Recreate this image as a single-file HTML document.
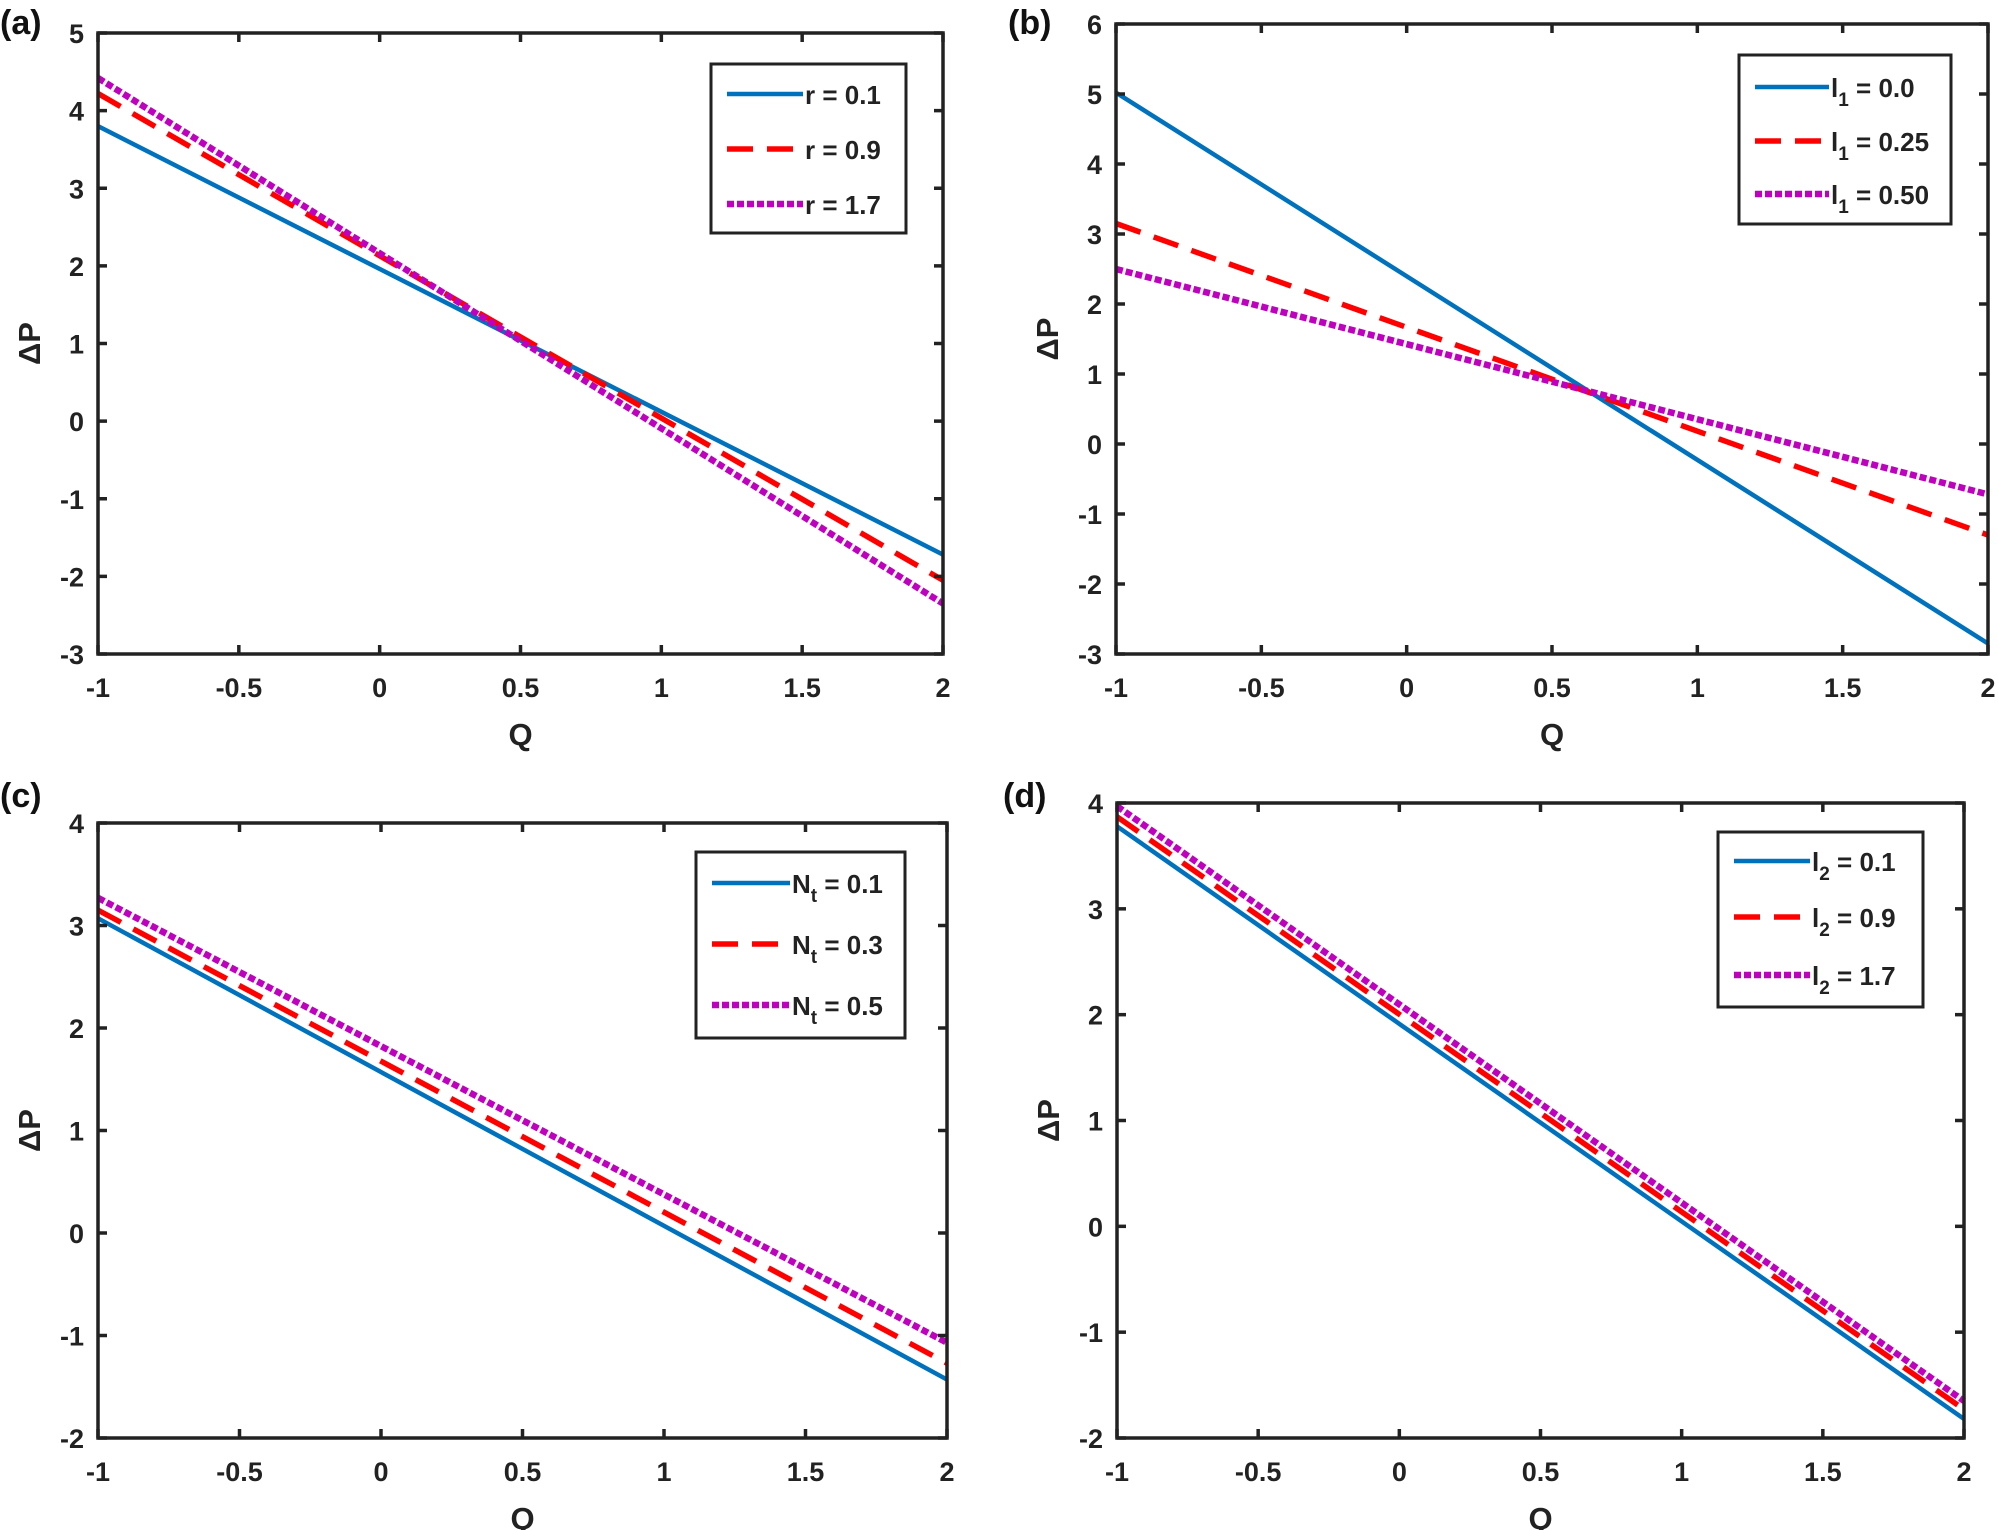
<!DOCTYPE html>
<html><head><meta charset="utf-8">
<style>
body{margin:0;background:#fff;}
svg{display:block;font-family:"Liberation Sans",Arial,sans-serif;font-weight:bold;}
</style></head>
<body>
<svg id="fig" width="1998" height="1530" viewBox="0 0 1998 1530" xmlns="http://www.w3.org/2000/svg"></svg>
<script>
// Shared x data
const qValues = [-1, 2];
const xTicks = [-1, -0.5, 0, 0.5, 1, 1.5, 2];
const xTickLabels = ["-1","-0.5","0","0.5","1","1.5","2"];
// Panel (a)
const aLabels = ["r = 0.1","r = 0.9","r = 1.7"];
const aBlue = [3.8, -1.72];
const aRed = [4.22, -2.05];
const aMag = [4.42, -2.35];
const aYTicks = [-3,-2,-1,0,1,2,3,4,5];
// Panel (b)
const bLabels = [["l","1"," = 0.0"],["l","1"," = 0.25"],["l","1"," = 0.50"]];
const bBlue = [5.02, -2.85];
const bRed = [3.15, -1.3];
const bMag = [2.5, -0.72];
const bYTicks = [-3,-2,-1,0,1,2,3,4,5,6];
// Panel (c)
const cLabels = [["N","t"," = 0.1"],["N","t"," = 0.3"],["N","t"," = 0.5"]];
const cBlue = [3.07, -1.43];
const cRed = [3.15, -1.27];
const cMag = [3.27, -1.07];
const cYTicks = [-2,-1,0,1,2,3,4];
// Panel (d)
const dLabels = [["l","2"," = 0.1"],["l","2"," = 0.9"],["l","2"," = 1.7"]];
const dBlue = [3.78, -1.82];
const dRed = [3.87, -1.73];
const dMag = [3.97, -1.65];
const dYTicks = [-2,-1,0,1,2,3,4];

const NS = "http://www.w3.org/2000/svg";
const svg = document.getElementById('fig');
function mk(tag, attrs, parent){
  const e = document.createElementNS(NS, tag);
  for (const k in attrs) e.setAttribute(k, attrs[k]);
  (parent||svg).appendChild(e);
  return e;
}
const styles = [
  {stroke:"#0072BD", w:4.5, dash:""},
  {stroke:"#FF0000", w:5.5, dash:"26 14"},
  {stroke:"#BF00BF", w:6.5, dash:"7 3"}
];

function panel(id, box, ymin, ymax, yTicks, series, labels, leg){
  const g = mk('g', {});
  
  
  const L=box[0], R=box[1], T=box[2], B=box[3];
  const xs = v => L + (v - (-1)) / 3 * (R - L);
  const ys = v => B - (v - ymin) / (ymax - ymin) * (B - T);
  series.forEach((vals, i) => {
    const s = styles[i];
    let d = "";
    qValues.forEach((q, k) => { d += (k ? "L" : "M") + xs(q) + "," + ys(vals[k]); });
    const p = mk('path', {d:d, fill:"none", stroke:s.stroke, "stroke-width":s.w, "stroke-dasharray":s.dash}, g);
    
    
  });
  const fr = mk('rect', {x:L, y:T, width:R-L, height:B-T, fill:"none", stroke:"#222", "stroke-width":3.5}, g);
  
  
  xTicks.forEach((v, i) => {
    const x = xs(v);
    mk('line', {x1:x, x2:x, y1:B, y2:B-9, stroke:"#222", "stroke-width":3.5}, g);
    mk('line', {x1:x, x2:x, y1:T, y2:T+9, stroke:"#222", "stroke-width":3.5}, g);
    const t = mk('text', {x:x, y:B+43, "text-anchor":"middle", "font-size":27, fill:"#222"}, g);
    t.textContent = xTickLabels[i];
    
    
  });
  yTicks.forEach(v => {
    const y = ys(v);
    mk('line', {x1:L, x2:L+9, y1:y, y2:y, stroke:"#222", "stroke-width":3.5}, g);
    mk('line', {x1:R, x2:R-9, y1:y, y2:y, stroke:"#222", "stroke-width":3.5}, g);
    const t = mk('text', {x:L-14, y:y+10, "text-anchor":"end", "font-size":27, fill:"#222"}, g);
    t.textContent = String(v);
    
    
  });
  const xt = mk('text', {x:(L+R)/2, y:B+91, "text-anchor":"middle", "font-size":31, fill:"#222"}, g);
  xt.textContent = "Q";
  
  
  const yt = mk('text', {transform:"translate(" + (L-58) + "," + ((T+B)/2) + ") rotate(-90)", "text-anchor":"middle", "font-size":31, fill:"#222"}, g);
  yt.textContent = "\u0394P";
  
  
  const pl = mk('text', {x:box[4], y:box[5], "font-size":34, fill:"#111"}, g);
  pl.textContent = "(" + id + ")";
  
  
  const lg = mk('g', {}, g);
  
  
  mk('rect', {x:leg.x, y:leg.y, width:leg.w, height:leg.h, fill:"#fff", stroke:"#222", "stroke-width":3}, lg);
  labels.forEach((lab, i) => {
    const y = leg.rows[i];
    const s = styles[i];
    const ent = mk('g', {}, lg);
    
    
    mk('line', {x1:leg.x+16, x2:leg.x+16+leg.lw, y1:y, y2:y, stroke:s.stroke, "stroke-width":s.w, "stroke-dasharray":s.dash}, ent);
    const t = mk('text', {x:leg.x+18+leg.lw, y:y+10, "font-size":26, fill:"#222"}, ent);
    if (typeof lab === 'string') { t.textContent = lab; }
    else {
      const a = mk('tspan', {}, t); a.textContent = lab[0];
      const b = mk('tspan', {dy:9, "font-size":19}, t); b.textContent = lab[1];
      const c = mk('tspan', {dy:-9}, t); c.textContent = lab[2];
    }
  });
}

panel('a', [98, 943, 33, 654, 0, 34], -3, 5, aYTicks, [aBlue, aRed, aMag], aLabels,
  {x:711, y:64, w:195, h:169, lw:76, rows:[94,149,204]});
panel('b', [1116, 1988, 24, 654, 1008, 34], -3, 6, bYTicks, [bBlue, bRed, bMag], bLabels,
  {x:1739, y:55, w:212, h:169, lw:74, rows:[87,141,194]});
panel('c', [98, 947, 823, 1438, 0, 807], -2, 4, cYTicks, [cBlue, cRed, cMag], cLabels,
  {x:696, y:852, w:209, h:186, lw:78, rows:[883,944,1005]});
panel('d', [1117, 1964, 803, 1438, 1003, 807], -2, 4, dYTicks, [dBlue, dRed, dMag], dLabels,
  {x:1718, y:832, w:205, h:175, lw:76, rows:[861,917,975]});
</script>
</body></html>
